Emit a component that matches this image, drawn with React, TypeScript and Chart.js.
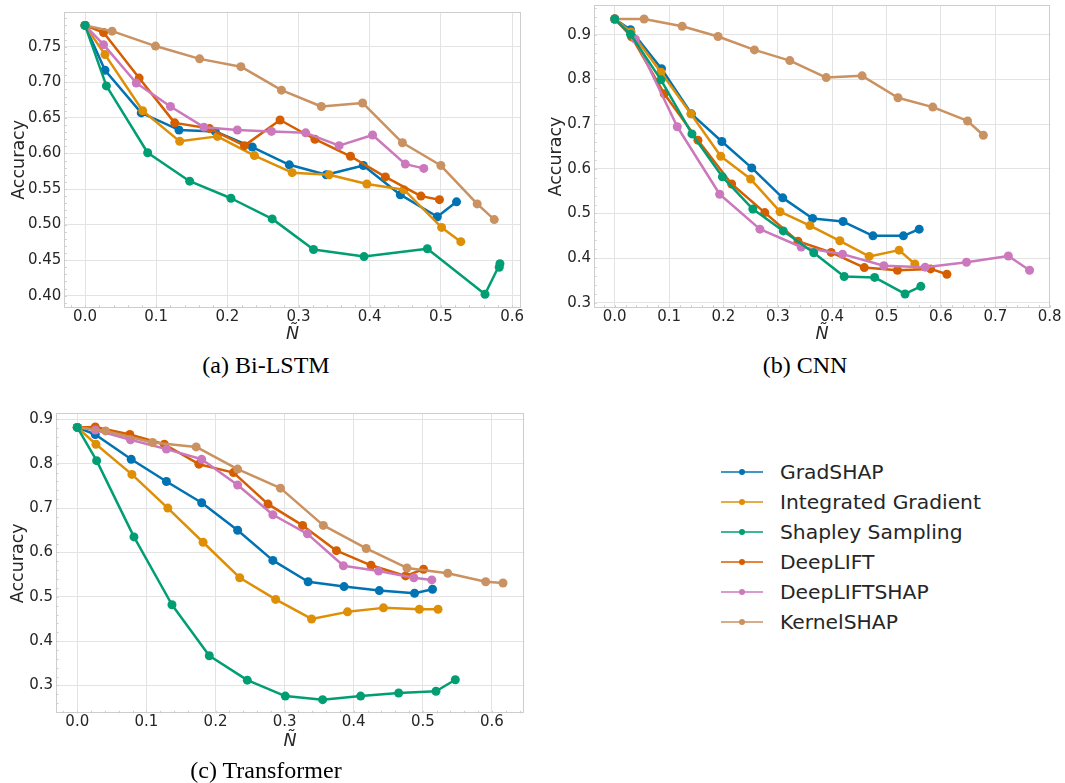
import React, { useEffect, useRef } from "react";
import { Chart, registerables } from "chart.js";

Chart.register(...registerables);

type Pt = [number, number];

// ---- series (x = Ñ, y = accuracy) ----
const METHODS = [
  "GradSHAP",
  "Integrated Gradient",
  "Shapley Sampling",
  "DeepLIFT",
  "DeepLIFTSHAP",
  "KernelSHAP",
];
const COLORS = ["#0173b2", "#de8f05", "#029e73", "#d55e00", "#cc78bc", "#ca9161"];
// lower value is painted later (on top)
const PAINT_ORDER = [6, 5, 1, 4, 3, 2];

// (a) Bi-LSTM
const LSTM_GRADSHAP: Pt[] = [[0, 0.78], [0.028, 0.717], [0.079, 0.657], [0.132, 0.633], [0.183, 0.631], [0.235, 0.609], [0.287, 0.584], [0.339, 0.57], [0.391, 0.583], [0.443, 0.542], [0.495, 0.511], [0.522, 0.532]];
const LSTM_IG: Pt[] = [[0, 0.78], [0.028, 0.739], [0.081, 0.66], [0.133, 0.617], [0.186, 0.624], [0.238, 0.597], [0.291, 0.573], [0.343, 0.57], [0.396, 0.557], [0.448, 0.549], [0.501, 0.496], [0.528, 0.476]];
const LSTM_SHAPLEY: Pt[] = [[0, 0.78], [0.03, 0.695], [0.088, 0.601], [0.147, 0.561], [0.205, 0.537], [0.263, 0.508], [0.321, 0.465], [0.392, 0.455], [0.481, 0.466], [0.562, 0.402], [0.583, 0.445], [0.582, 0.44]];
const LSTM_DEEPLIFT: Pt[] = [[0, 0.78], [0.026, 0.77], [0.076, 0.706], [0.126, 0.643], [0.175, 0.635], [0.224, 0.611], [0.274, 0.647], [0.323, 0.62], [0.373, 0.596], [0.422, 0.567], [0.472, 0.54], [0.498, 0.535]];
const LSTM_DEEPLIFTSHAP: Pt[] = [[0, 0.78], [0.026, 0.753], [0.072, 0.699], [0.12, 0.666], [0.167, 0.637], [0.214, 0.633], [0.262, 0.631], [0.31, 0.629], [0.357, 0.611], [0.404, 0.626], [0.45, 0.585], [0.476, 0.579]];
const LSTM_KERNELSHAP: Pt[] = [[0, 0.78], [0.038, 0.772], [0.099, 0.751], [0.161, 0.733], [0.219, 0.722], [0.276, 0.689], [0.332, 0.666], [0.39, 0.671], [0.446, 0.615], [0.5, 0.583], [0.551, 0.529], [0.575, 0.507]];

// (b) CNN
const CNN_GRADSHAP: Pt[] = [[0, 0.935], [0.029, 0.911], [0.086, 0.824], [0.141, 0.723], [0.197, 0.661], [0.252, 0.602], [0.309, 0.535], [0.364, 0.489], [0.42, 0.482], [0.475, 0.45], [0.531, 0.45], [0.56, 0.465]];
const CNN_IG: Pt[] = [[0, 0.935], [0.03, 0.906], [0.085, 0.816], [0.14, 0.723], [0.195, 0.628], [0.25, 0.577], [0.304, 0.504], [0.359, 0.473], [0.414, 0.439], [0.468, 0.404], [0.523, 0.418], [0.552, 0.387]];
const CNN_SHAPLEY: Pt[] = [[0, 0.935], [0.029, 0.901], [0.085, 0.799], [0.142, 0.678], [0.198, 0.582], [0.254, 0.51], [0.31, 0.461], [0.366, 0.412], [0.422, 0.359], [0.478, 0.357], [0.534, 0.32], [0.563, 0.337]];
const CNN_DEEPLIFT: Pt[] = [[0, 0.935], [0.031, 0.895], [0.091, 0.768], [0.153, 0.664], [0.215, 0.566], [0.276, 0.502], [0.337, 0.438], [0.398, 0.413], [0.459, 0.379], [0.52, 0.373], [0.581, 0.376], [0.611, 0.364]];
const CNN_DEEPLIFTSHAP: Pt[] = [[0, 0.935], [0.038, 0.89], [0.115, 0.694], [0.193, 0.543], [0.267, 0.465], [0.343, 0.425], [0.419, 0.409], [0.495, 0.383], [0.571, 0.38], [0.647, 0.391], [0.724, 0.405], [0.763, 0.373]];
const CNN_KERNELSHAP: Pt[] = [[0, 0.935], [0.054, 0.935], [0.124, 0.919], [0.19, 0.896], [0.257, 0.866], [0.322, 0.842], [0.389, 0.804], [0.455, 0.808], [0.521, 0.759], [0.585, 0.738], [0.649, 0.707], [0.678, 0.675]];

// (c) Transformer
const TRF_GRADSHAP: Pt[] = [[0, 0.882], [0.026, 0.866], [0.078, 0.81], [0.129, 0.76], [0.18, 0.712], [0.232, 0.65], [0.283, 0.582], [0.334, 0.534], [0.386, 0.523], [0.437, 0.514], [0.488, 0.508], [0.514, 0.517]];
const TRF_IG: Pt[] = [[0, 0.882], [0.027, 0.844], [0.079, 0.776], [0.131, 0.7], [0.182, 0.623], [0.235, 0.543], [0.287, 0.494], [0.339, 0.45], [0.391, 0.466], [0.443, 0.475], [0.495, 0.472], [0.522, 0.472]];
const TRF_SHAPLEY: Pt[] = [[0, 0.882], [0.028, 0.807], [0.082, 0.635], [0.137, 0.482], [0.191, 0.367], [0.246, 0.312], [0.301, 0.276], [0.355, 0.268], [0.41, 0.276], [0.465, 0.283], [0.519, 0.287], [0.547, 0.313]];
const TRF_DEEPLIFT: Pt[] = [[0, 0.882], [0.026, 0.883], [0.076, 0.866], [0.126, 0.844], [0.176, 0.799], [0.226, 0.78], [0.276, 0.709], [0.326, 0.661], [0.375, 0.604], [0.425, 0.571], [0.475, 0.547], [0.501, 0.562]];
const TRF_DEEPLIFTSHAP: Pt[] = [[0, 0.882], [0.026, 0.876], [0.077, 0.854], [0.129, 0.833], [0.18, 0.81], [0.232, 0.752], [0.283, 0.685], [0.333, 0.642], [0.385, 0.57], [0.436, 0.558], [0.487, 0.543], [0.513, 0.538]];
const TRF_KERNELSHAP: Pt[] = [[0, 0.882], [0.041, 0.874], [0.109, 0.848], [0.172, 0.838], [0.232, 0.788], [0.294, 0.745], [0.356, 0.661], [0.418, 0.609], [0.477, 0.565], [0.536, 0.553], [0.591, 0.534], [0.616, 0.531]];

// ---- tick values ----
const LSTM_X_TICKS = [0, 0.1, 0.2, 0.3, 0.4, 0.5, 0.6];
const LSTM_Y_TICKS = [0.4, 0.45, 0.5, 0.55, 0.6, 0.65, 0.7, 0.75];
const CNN_X_TICKS = [0, 0.1, 0.2, 0.3, 0.4, 0.5, 0.6, 0.7, 0.8];
const CNN_Y_TICKS = [0.3, 0.4, 0.5, 0.6, 0.7, 0.8, 0.9];
const TRF_X_TICKS = [0, 0.1, 0.2, 0.3, 0.4, 0.5, 0.6];
const TRF_Y_TICKS = [0.3, 0.4, 0.5, 0.6, 0.7, 0.8, 0.9];

const CAPTIONS = ["(a) Bi-LSTM", "(b) CNN", "(c) Transformer"];

const TEXT = "#262626";
const GRID = "#e3e3e3";
const FRAME = "#cdcdcd";
const SANS = '"DejaVu Sans", sans-serif';
const TICK_SIZE = 15;
const LABEL_SIZE = 17.5;

interface PanelSpec {
  series: Pt[][];
  xTicks: number[];
  yTicks: number[];
  xDec: number;
  yDec: number;
  xMinor: number;
  yMinor: number;
  // canvas placement on the page
  left: number;
  top: number;
  w: number;
  h: number;
  // plot area inside the canvas
  area: { l: number; t: number; r: number; b: number };
  yTitleX: number;
  xTitleY: number;
}

function paddedRange(series: Pt[][], k: 0 | 1): [number, number] {
  let lo = Infinity;
  let hi = -Infinity;
  for (const s of series) for (const p of s) {
    lo = Math.min(lo, p[k]);
    hi = Math.max(hi, p[k]);
  }
  const m = (hi - lo) * 0.05;
  return [lo - m, hi + m];
}

function framePlugin(spec: PanelSpec) {
  return {
    id: "frameAndMinorTicks",
    beforeDatasetsDraw(chart: any) {
      const { ctx, chartArea: a, scales } = chart;
      const xs = scales.x;
      const ys = scales.y;
      ctx.save();
      ctx.strokeStyle = FRAME;
      ctx.lineWidth = 1;
      ctx.beginPath();
      const len = 2.5;
      for (let i = Math.ceil(xs.min / spec.xMinor); i * spec.xMinor <= xs.max + 1e-9; i++) {
        const px = Math.round(xs.getPixelForValue(i * spec.xMinor)) + 0.5;
        ctx.moveTo(px, a.bottom);
        ctx.lineTo(px, a.bottom - len);
      }
      for (let i = Math.ceil(ys.min / spec.yMinor); i * spec.yMinor <= ys.max + 1e-9; i++) {
        const py = Math.round(ys.getPixelForValue(i * spec.yMinor)) + 0.5;
        ctx.moveTo(a.left, py);
        ctx.lineTo(a.left + len, py);
      }
      ctx.stroke();
      const l = Math.round(a.left) + 0.5;
      const t = Math.round(a.top) + 0.5;
      const r = Math.round(a.right) - 0.5;
      const b = Math.round(a.bottom) - 0.5;
      ctx.strokeRect(l, t, r - l, b - t);
      ctx.restore();
    },
  };
}

function Panel({ spec }: { spec: PanelSpec }) {
  const ref = useRef<HTMLCanvasElement | null>(null);

  useEffect(() => {
    if (!ref.current) return;
    const [xMin, xMax] = paddedRange(spec.series, 0);
    const [yMin, yMax] = paddedRange(spec.series, 1);
    const { area, w, h } = spec;
    const lh = LABEL_SIZE * 1.2;

    const chart = new Chart(ref.current, {
      type: "line",
      data: {
        datasets: spec.series.map((s, i) => ({
          label: METHODS[i],
          data: s.map(([x, y]) => ({ x, y })),
          borderColor: COLORS[i],
          backgroundColor: COLORS[i],
          pointBackgroundColor: COLORS[i],
          pointBorderColor: COLORS[i],
          borderWidth: 2.5,
          pointRadius: 4.5,
          pointBorderWidth: 0,
          borderJoinStyle: "round",
          borderCapStyle: "round",
          tension: 0,
          fill: false,
          order: PAINT_ORDER[i],
        })),
      },
      options: {
        responsive: false,
        animation: false,
        devicePixelRatio: 1,
        events: [],
        layout: {
          padding: { left: 0, top: area.t, right: w - area.r, bottom: 0 },
        },
        plugins: {
          legend: { display: false },
          tooltip: { enabled: false },
        },
        scales: {
          x: {
            type: "linear",
            min: xMin,
            max: xMax,
            afterBuildTicks: (s: any) => {
              s.ticks = spec.xTicks.map((v) => ({ value: v }));
            },
            afterFit: (s: any) => {
              s.height = h - area.b;
              s.paddingLeft = 0;
              s.paddingRight = 0;
            },
            grid: { color: GRID, lineWidth: 1, drawTicks: false },
            border: { display: false },
            ticks: {
              padding: 0,
              color: TEXT,
              autoSkip: false,
              maxRotation: 0,
              font: { family: SANS, size: TICK_SIZE },
              callback: (v: any) => Number(v).toFixed(spec.xDec),
            },
            title: {
              display: true,
              text: "Ñ",
              color: TEXT,
              font: { family: SANS, size: LABEL_SIZE, style: "italic" },
              padding: { top: 0, bottom: h - spec.xTitleY - lh / 2 },
            },
          },
          y: {
            type: "linear",
            min: yMin,
            max: yMax,
            afterBuildTicks: (s: any) => {
              s.ticks = spec.yTicks.map((v) => ({ value: v }));
            },
            afterFit: (s: any) => {
              s.width = area.l;
              s.paddingTop = 0;
              s.paddingBottom = 0;
            },
            grid: { color: GRID, lineWidth: 1, drawTicks: false },
            border: { display: false },
            ticks: {
              padding: 3,
              color: TEXT,
              autoSkip: false,
              font: { family: SANS, size: TICK_SIZE },
              callback: (v: any) => Number(v).toFixed(spec.yDec),
            },
            title: {
              display: true,
              text: "Accuracy",
              color: TEXT,
              font: { family: SANS, size: LABEL_SIZE },
              padding: { top: spec.yTitleX - lh / 2, bottom: 0 },
            },
          },
        },
      },
      plugins: [framePlugin(spec)],
    } as any);

    return () => chart.destroy();
  }, [spec]);

  return (
    <canvas
      ref={ref}
      width={spec.w}
      height={spec.h}
      style={{ position: "absolute", left: spec.left, top: spec.top }}
    />
  );
}

const PANELS: PanelSpec[] = [
  {
    series: [LSTM_GRADSHAP, LSTM_IG, LSTM_SHAPLEY, LSTM_DEEPLIFT, LSTM_DEEPLIFTSHAP, LSTM_KERNELSHAP],
    xTicks: LSTM_X_TICKS,
    yTicks: LSTM_Y_TICKS,
    xDec: 1,
    yDec: 2,
    xMinor: 0.02,
    yMinor: 0.01,
    left: 0,
    top: 0,
    w: 530,
    h: 350,
    area: { l: 64.3, t: 12, r: 520.7, b: 307.7 },
    yTitleX: 19,
    xTitleY: 334,
  },
  {
    series: [CNN_GRADSHAP, CNN_IG, CNN_SHAPLEY, CNN_DEEPLIFT, CNN_DEEPLIFTSHAP, CNN_KERNELSHAP],
    xTicks: CNN_X_TICKS,
    yTicks: CNN_Y_TICKS,
    xDec: 1,
    yDec: 1,
    xMinor: 0.02,
    yMinor: 0.02,
    left: 540,
    top: 0,
    w: 525,
    h: 350,
    area: { l: 54, t: 5.3, r: 510.3, b: 307.7 },
    yTitleX: 16,
    xTitleY: 334,
  },
  {
    series: [TRF_GRADSHAP, TRF_IG, TRF_SHAPLEY, TRF_DEEPLIFT, TRF_DEEPLIFTSHAP, TRF_KERNELSHAP],
    xTicks: TRF_X_TICKS,
    yTicks: TRF_Y_TICKS,
    xDec: 1,
    yDec: 1,
    xMinor: 0.02,
    yMinor: 0.02,
    left: 0,
    top: 400,
    w: 530,
    h: 360,
    area: { l: 56, t: 13.3, r: 524.3, b: 313.3 },
    yTitleX: 18,
    xTitleY: 341,
  },
];

const CAPTION_POS = [
  { x: 266, y: 365 },
  { x: 805, y: 365 },
  { x: 266, y: 770 },
];

function Legend() {
  return (
    <>
      {METHODS.map((name, i) => (
        <div
          key={name}
          style={{
            position: "absolute",
            left: 721,
            top: 457 + i * 30,
            height: 30,
            display: "flex",
            alignItems: "center",
            whiteSpace: "nowrap",
          }}
        >
          <div style={{ position: "relative", width: 42, height: 30 }}>
            <div
              style={{
                position: "absolute",
                left: 0,
                top: 14,
                width: 42,
                height: 2,
                background: COLORS[i],
                opacity: 0.75,
              }}
            />
            <div
              style={{
                position: "absolute",
                left: 18,
                top: 12,
                width: 6,
                height: 6,
                borderRadius: 3,
                background: COLORS[i],
              }}
            />
          </div>
          <span
            style={{
              marginLeft: 17,
              fontFamily: SANS,
              fontSize: 20.3,
              lineHeight: "30px",
              color: TEXT,
            }}
          >
            {name}
          </span>
        </div>
      ))}
    </>
  );
}

export default function App() {
  return (
    <div
      style={{
        position: "absolute",
        left: 0,
        top: 0,
        width: 1065,
        height: 783,
        background: "#ffffff",
        overflow: "hidden",
      }}
    >
      {PANELS.map((p, i) => (
        <Panel key={i} spec={p} />
      ))}
      {CAPTIONS.map((c, i) => (
        <div
          key={c}
          style={{
            position: "absolute",
            left: CAPTION_POS[i].x - 150,
            top: CAPTION_POS[i].y - 14,
            width: 300,
            height: 28,
            lineHeight: "28px",
            textAlign: "center",
            fontFamily: '"Liberation Serif", "Times New Roman", serif',
            fontSize: 24,
            color: "#000",
          }}
        >
          {c}
        </div>
      ))}
      <Legend />
    </div>
  );
}
